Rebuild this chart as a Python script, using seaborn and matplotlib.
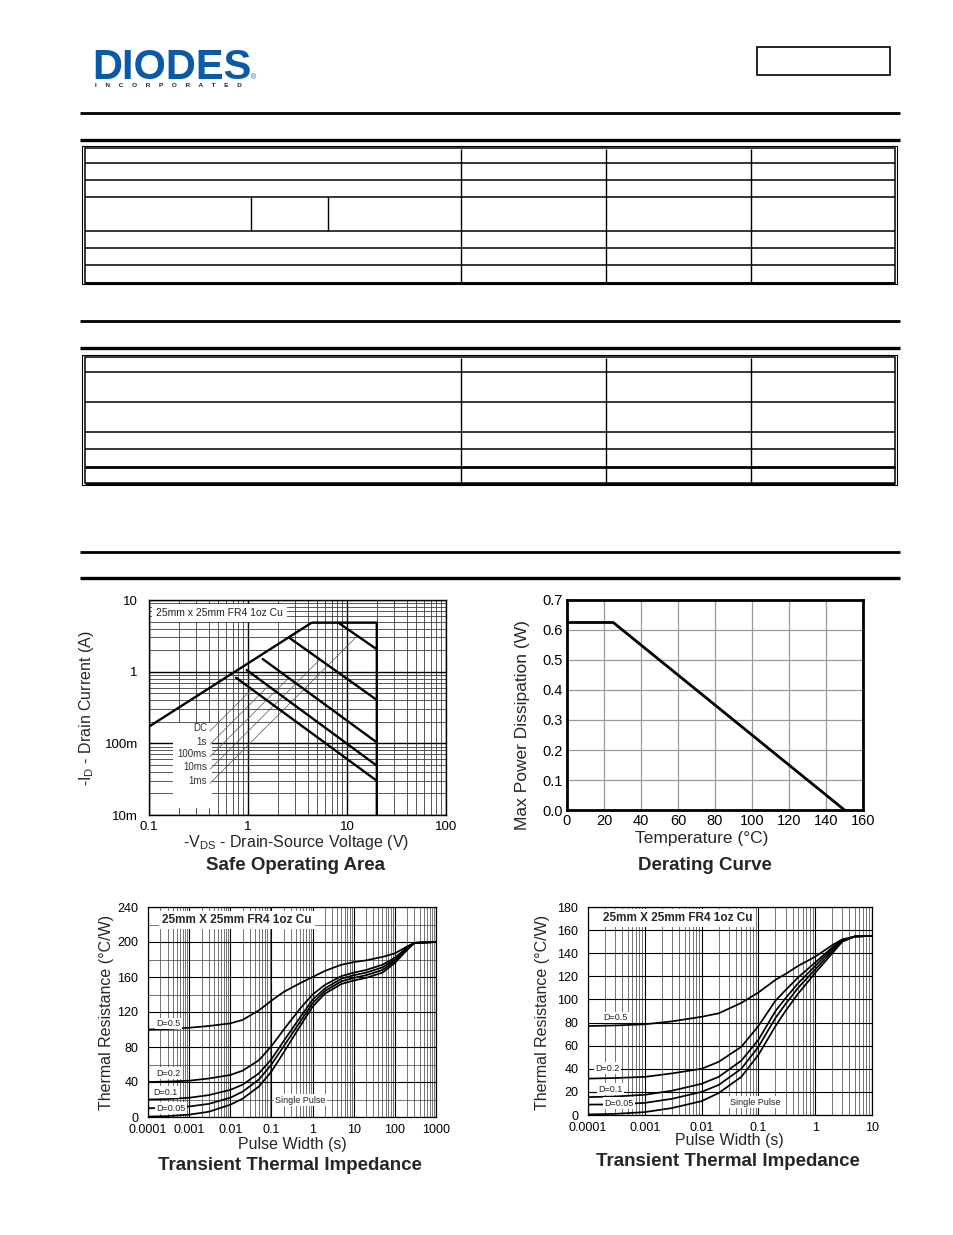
import numpy as np
import pandas as pd
import matplotlib
matplotlib.use("Agg")
import matplotlib.pyplot as plt
from matplotlib.lines import Line2D
from matplotlib.patches import Rectangle
from matplotlib.ticker import LogLocator, NullFormatter, MultipleLocator
from matplotlib import font_manager
import seaborn as sns

# ------------------------------------------------------------------ data
# Safe operating area
soa_limit_v = [0.1, 4.4, 20, 20]
soa_limit_i = [0.171, 4.83, 4.83, 0.01]
pulse_names = ["DC", "1s", "100ms", "10ms", "1ms"]
pulse_start_v = [0.757, 0.97, 1.41, 2.66, 8.17]
pulse_start_i = [0.824, 1.055, 1.50, 2.92, 4.83]
pulse_end_v = [20, 20, 20, 20, 20]
pulse_end_i = [0.030, 0.0488, 0.103, 0.403, 2.05]
pulse_label_v = [0.385, 0.385, 0.385, 0.385, 0.385]
pulse_label_i = [0.162, 0.105, 0.071, 0.0472, 0.0301]
leader_start_v = [0.413, 0.413, 0.413, 0.413, 0.413]
leader_start_i = [0.1486, 0.0969, 0.0652, 0.0434, 0.0277]
leader_end_v = [1.089, 1.60, 2.57, 5.30, 12.7]
leader_end_i = [0.567, 0.631, 0.816, 1.47, 3.15]
soa_xticks = [0.1, 1, 10, 100]
soa_xlabels = ["0.1", "1", "10", "100"]
soa_yticks = [0.01, 0.1, 1, 10]
soa_ylabels = ["10m", "100m", "1", "10"]

# Derating curve
derate_temp = [0, 25, 150]
derate_power = [0.625, 0.625, 0.0]

# Transient thermal impedance (left)
tl_time = [1e-4, 3e-4, 1e-3, 3e-3, 1e-2, 2e-2, 5e-2, 0.1, 0.2, 0.5, 1, 2, 5, 10, 20, 50, 100, 200, 300, 1000]
tl_d05 = [100, 100.5, 102, 104, 107, 111, 122, 133, 143, 153, 160, 167, 174, 177, 179, 183, 187, 195, 199, 200]
tl_d02 = [40, 40.5, 41.5, 44, 48, 53, 65, 81, 100, 124, 140, 151, 161, 165, 168, 174, 182, 194, 199, 200]
tl_d01 = [20, 20.5, 22, 25, 31, 37, 50, 66, 87, 114, 134, 147, 158, 162, 165, 171, 180, 193, 199, 200]
tl_d005 = [10, 10.5, 12, 15, 22, 29, 43, 60, 81, 109, 130, 144, 155, 159, 162, 168, 178, 192, 199, 200]
tl_single = [0.5, 1, 2.7, 6, 14, 21, 35, 52, 74, 104, 126, 141, 152, 156, 159, 165, 176, 191, 199, 200]

# Transient thermal impedance (right)
tr_time = [1e-4, 3e-4, 1e-3, 3e-3, 1e-2, 2e-2, 5e-2, 0.1, 0.2, 0.3, 0.5, 1, 2, 3, 5, 10]
tr_d05 = [77, 77.5, 78.5, 81, 85, 88, 97, 106, 117, 122, 129, 137, 147, 152, 154.5, 155]
tr_d02 = [31.5, 32, 33, 36, 40, 46, 59, 77, 99, 108, 119, 132, 145, 151, 154.5, 155]
tr_d01 = [15.5, 16, 17.5, 21, 27, 33, 47, 65, 90, 101, 114, 129, 144, 151, 154.5, 155]
tr_d005 = [9, 9.2, 10.5, 14, 20, 26, 40, 59, 84, 96, 110, 126, 142, 150.5, 154.5, 155]
tr_single = [0.5, 1, 2.5, 6, 12, 19, 33, 52, 77, 90, 105, 123, 140, 150, 154.5, 155]

duty_names = ["D=0.5", "D=0.2", "D=0.1", "D=0.05", "Single Pulse"]
tl_label_t = [1.63e-4, 1.63e-4, 1.35e-4, 1.63e-4, 0.122]
tl_label_r = [107, 50, 28.2, 9.9, 19.4]
tr_label_t = [1.86e-4, 1.33e-4, 1.52e-4, 1.91e-4, 0.0316]
tr_label_r = [84.5, 40.4, 22.2, 10.1, 11]

thermal_l_xticks = [1e-4, 1e-3, 1e-2, 0.1, 1, 10, 100, 1000]
thermal_l_xlabels = ["0.0001", "0.001", "0.01", "0.1", "1", "10", "100", "1000"]
thermal_r_xticks = [1e-4, 1e-3, 1e-2, 0.1, 1, 10]
thermal_r_xlabels = ["0.0001", "0.001", "0.01", "0.1", "1", "10"]

# ------------------------------------------------------------------ style
sns.set_theme(style="white")
plt.rcParams["font.family"] = ["Liberation Sans", "DejaVu Sans"]
plt.rcParams["mathtext.fontset"] = "custom"
plt.rcParams["mathtext.rm"] = "Liberation Sans"

available = {f.name for f in font_manager.fontManager.ttflist}
narrow_ok = "Liberation Sans Narrow" in available

W, H = 954, 1235
fig = plt.figure(figsize=(W / 100, H / 100), dpi=100)
fig.patch.set_facecolor("white")


def fx(x):
    return x / W


def fy(y):
    return 1 - y / H


def fline(xs, ys, lw=1.0, color="black"):
    fig.add_artist(Line2D([fx(x) for x in xs], [fy(y) for y in ys],
                          transform=fig.transFigure, color=color, lw=lw,
                          solid_capstyle="butt"))


def frect(x0, y0, x1, y1, lw=1.0):
    fig.add_artist(Rectangle((fx(x0), fy(y1)), (x1 - x0) / W, (y1 - y0) / H,
                             transform=fig.transFigure, fill=False,
                             edgecolor="black", lw=lw))


def new_axes(l, t, r, b):
    return fig.add_axes([fx(l), fy(b), (r - l) / W, (b - t) / H])


def ftext(x, y, s, **kw):
    fig.text(fx(x), fy(y), s, **kw)


# ------------------------------------------------------------------ header
if narrow_ok:
    ftext(93, 80, "DIODES", fontsize=34, fontweight="bold", color="#0b5aa6",
          ha="left", va="baseline", family=["Liberation Sans Narrow", "Liberation Sans"])
else:
    ftext(92, 79, "DIODES", fontsize=30, fontweight="heavy", color="#0b5aa6",
          ha="left", va="baseline")
fline([95, 205], [62, 62], lw=0.8, color="white")
ftext(95, 85.5, "I     N     C     O     R     P     O     R     A     T     E     D",
      fontsize=4.6, fontweight="bold", color="#222222", ha="left", va="center")
ftext(254, 78, "®", fontsize=5, color="#0b5aa6", ha="center", va="center")
frect(757, 47, 890, 75, lw=1.2)

# horizontal rules
for yy, lw in [(113, 2.0), (140, 2.4), (321, 2.0), (348, 2.4), (552, 2.0), (578, 2.4)]:
    fline([80, 900], [yy, yy], lw=lw)

# table 1
frect(82, 146, 897, 284, lw=0.8)
frect(84.5, 148.5, 895, 282.5, lw=1.1)
fline([84.5, 895], [283, 283], lw=2.0)
for yy in [163, 180, 197, 231, 248, 265]:
    fline([84.5, 895], [yy, yy], lw=1.1)
for xx in [461, 606, 751]:
    fline([xx, xx], [148.5, 282.5], lw=1.0)
for xx in [251, 328]:
    fline([xx, xx], [197, 231], lw=1.0)

# table 2
frect(82, 355, 897, 485, lw=0.8)
frect(84.5, 357.5, 895, 483.5, lw=1.1)
fline([84.5, 895], [484, 484], lw=2.0)
for yy in [372, 402, 432, 449]:
    fline([84.5, 895], [yy, yy], lw=1.1)
fline([84.5, 895], [467, 467], lw=2.0)
for xx in [461, 606, 751]:
    fline([xx, xx], [357.5, 483.5], lw=1.0)

# ------------------------------------------------------------------ SOA
ax1 = new_axes(149, 600, 446, 815)
ax1.set_xscale("log")
ax1.set_yscale("log")
rows = []
for v, i in zip(soa_limit_v, soa_limit_i):
    rows.append({"v": v, "i": i, "seg": "limit"})
for n, sv, si, ev, ei in zip(pulse_names, pulse_start_v, pulse_start_i, pulse_end_v, pulse_end_i):
    rows.append({"v": sv, "i": si, "seg": n})
    rows.append({"v": ev, "i": ei, "seg": n})
soa_df = pd.DataFrame(rows)
sns.lineplot(data=soa_df, x="v", y="i", units="seg", estimator=None, sort=False,
             color="black", lw=1.7, ax=ax1, legend=False, zorder=3)
lrows = []
for n, sv, si, ev, ei in zip(pulse_names, leader_start_v, leader_start_i, leader_end_v, leader_end_i):
    lrows.append({"v": sv, "i": si, "seg": n})
    lrows.append({"v": ev, "i": ei, "seg": n})
lead_df = pd.DataFrame(lrows)
sns.lineplot(data=lead_df, x="v", y="i", units="seg", estimator=None, sort=False,
             color="#555555", lw=0.5, ax=ax1, legend=False, zorder=2.5)
ax1.add_patch(Rectangle((0.175, 0.0125), 0.43 - 0.175, 0.19 - 0.0125,
                        facecolor="white", edgecolor="none", zorder=1.5))
for n, lv, li in zip(pulse_names, pulse_label_v, pulse_label_i):
    ax1.text(lv, li, n, fontsize=7, color="#333333", ha="right", va="center", zorder=4)
ax1.text(0.118, 6.6, "25mm x 25mm FR4 1oz Cu", fontsize=7.5, color="#222222",
         ha="left", va="center", zorder=4,
         bbox=dict(boxstyle="square,pad=0.35", facecolor="white", edgecolor="none"))
ax1.set_xlim(0.1, 100)
ax1.set_ylim(0.01, 10)
for axis in (ax1.xaxis, ax1.yaxis):
    axis.set_minor_locator(LogLocator(base=10, subs=np.arange(2, 10), numticks=50))
    axis.set_minor_formatter(NullFormatter())
ax1.set_xticks(soa_xticks, soa_xlabels)
ax1.set_yticks(soa_yticks, soa_ylabels)
ax1.set_axisbelow(True)
ax1.grid(which="major", color="black", lw=1.0)
ax1.grid(which="minor", color="#3c3c3c", lw=0.6)
ax1.tick_params(which="both", length=0, labelsize=9.5, colors="black")
ax1.tick_params(axis="y", pad=8)
ax1.tick_params(axis="x", pad=4)
ax1.set_xlabel("")
ax1.set_ylabel("")
for s in ax1.spines.values():
    s.set_color("black")
    s.set_linewidth(1.0)
ftext(296, 842, r"-V$_{\mathregular{DS}}$ - Drain-Source Voltage (V)", fontsize=11.5,
      ha="center", va="center")
ftext(87, 708, r"-I$_{\mathregular{D}}$ - Drain Current (A)", fontsize=11.5,
      ha="center", va="center", rotation=90)
ftext(296, 866, "Safe Operating Area", fontsize=13.5, fontweight="bold",
      ha="center", va="center")

# ------------------------------------------------------------------ Derating
ax2 = new_axes(567, 600, 863, 810)
sns.lineplot(x=derate_temp, y=derate_power, color="black", lw=2.0, ax=ax2,
             sort=False, estimator=None, zorder=3)
ax2.set_xlim(0, 160)
ax2.set_ylim(0, 0.7)
ax2.set_xticks(np.arange(0, 161, 20))
ax2.set_yticks(np.arange(0, 0.71, 0.1), [f"{v:.1f}" for v in np.arange(0, 0.71, 0.1)])
ax2.grid(True, color="#9a9a9a", lw=0.9)
ax2.set_axisbelow(True)
ax2.tick_params(length=0, labelsize=10.5, colors="black", pad=3)
for s in ax2.spines.values():
    s.set_color("black")
    s.set_linewidth(2.0)
ax2.set_xlabel("")
ax2.set_ylabel("")
ftext(702, 838, "Temperature (°C)", fontsize=12.5, ha="center", va="center")
ftext(523, 725, "Max Power Dissipation (W)", fontsize=12.5, ha="center",
      va="center", rotation=90)
ftext(705, 866, "Derating Curve", fontsize=13.5, fontweight="bold",
      ha="center", va="center")


# ------------------------------------------------------------------ Thermal
def thermal(ax, time, curves, lab_t, lab_r, xlim, ylim, ymajor, xticks, xlabels, box_xy):
    rows = []
    for name, vals in zip(duty_names, curves):
        for t, r in zip(time, vals):
            rows.append({"t": t, "r": r, "D": name})
    df = pd.DataFrame(rows)
    ax.set_xscale("log")
    sns.lineplot(data=df, x="t", y="r", units="D", estimator=None, sort=False,
                 color="black", lw=1.25, ax=ax, legend=False, zorder=3)
    for name, t, r in zip(duty_names, lab_t, lab_r):
        ax.text(t, r, name, fontsize=6.5, color="#222222", ha="left", va="center",
                zorder=4, bbox=dict(boxstyle="square,pad=0.15", facecolor="white",
                                    edgecolor="none"))
    ax.text(box_xy[0], box_xy[1], "25mm X 25mm FR4 1oz Cu", fontsize=8.5,
            fontweight="bold", ha="center", va="center", zorder=4,
            bbox=dict(boxstyle="square,pad=0.25", facecolor="white", edgecolor="none"))
    ax.set_xlim(*xlim)
    ax.set_ylim(*ylim)
    ax.xaxis.set_minor_locator(LogLocator(base=10, subs=np.arange(2, 10), numticks=50))
    ax.xaxis.set_minor_formatter(NullFormatter())
    ax.set_xticks(xticks, xlabels)
    ax.yaxis.set_major_locator(MultipleLocator(ymajor))
    ax.yaxis.set_minor_locator(MultipleLocator(20))
    ax.set_axisbelow(True)
    ax.grid(which="major", color="black", lw=0.8)
    ax.grid(which="minor", color="#3c3c3c", lw=0.5)
    ax.tick_params(which="both", length=0, labelsize=9, colors="black")
    ax.tick_params(axis="y", pad=7)
    ax.tick_params(axis="x", pad=5)
    ax.set_xlabel("")
    ax.set_ylabel("")
    for s in ax.spines.values():
        s.set_color("black")
        s.set_linewidth(0.9)


ax3 = new_axes(148, 907, 436, 1117)
thermal(ax3, tl_time, [tl_d05, tl_d02, tl_d01, tl_d005, tl_single], tl_label_t, tl_label_r,
        (1e-4, 1000), (0, 240), 40, thermal_l_xticks, thermal_l_xlabels, (0.0146, 225))
ftext(292, 1144, "Pulse Width (s)", fontsize=11.5, ha="center", va="center")
ftext(107, 1012, "Thermal Resistance (°C/W)", fontsize=11.5, ha="center",
      va="center", rotation=90)
ftext(290, 1165, "Transient Thermal Impedance", fontsize=13.5, fontweight="bold",
      ha="center", va="center")

ax4 = new_axes(588, 907, 872, 1115)
thermal(ax4, tr_time, [tr_d05, tr_d02, tr_d01, tr_d005, tr_single], tr_label_t, tr_label_r,
        (1e-4, 10), (0, 180), 20, thermal_r_xticks, thermal_r_xlabels, (3.85e-3, 170.5))
ftext(729, 1141, "Pulse Width (s)", fontsize=11.5, ha="center", va="center")
ftext(543, 1012, "Thermal Resistance (°C/W)", fontsize=11.5, ha="center",
      va="center", rotation=90)
ftext(728, 1162, "Transient Thermal Impedance", fontsize=13.5, fontweight="bold",
      ha="center", va="center")

fig.savefig("out.png", dpi=100, facecolor="white")
